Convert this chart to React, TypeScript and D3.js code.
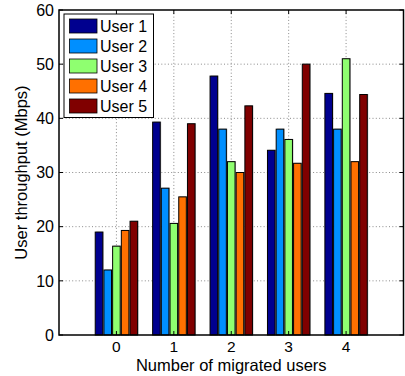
import React from "react";
import * as d3 from "d3";

// Throughput per user (Mbps) for each number of migrated users
const migrated = [0, 1, 2, 3, 4];
const users = ["User 1", "User 2", "User 3", "User 4", "User 5"];
const user1 = [19.0, 39.3, 47.8, 34.1, 44.6];
const user2 = [12.0, 27.1, 38.0, 38.0, 38.0];
const user3 = [16.4, 20.6, 32.0, 36.1, 51.0];
const user4 = [19.3, 25.5, 30.0, 31.7, 32.0];
const user5 = [21.0, 39.0, 42.3, 50.0, 44.4];
const series = [user1, user2, user3, user4, user5];
const colors = ["#00008F", "#008FFF", "#8FFF70", "#FF7000", "#800000"];
const yTicks = [0, 10, 20, 30, 40, 50, 60];

const W = 405;
const H = 376;
const left = 59;
const right = 403.5;
const top = 10;
const bottom = 335;
const font = "'Liberation Sans', Arial, Helvetica, sans-serif";

export default function App() {
  const x = d3.scaleLinear().domain([-1, 5]).range([left, right]);
  const y = d3.scaleLinear().domain([0, 60]).range([bottom, top]);
  const step = x(1) - x(0);
  const inner = d3
    .scaleBand<string>()
    .domain(users)
    .range([-0.379 * step, 0.379 * step])
    .paddingInner(0.13)
    .paddingOuter(0.065);
  const bw = inner.bandwidth();
  const tickLen = 4;

  return (
    <svg
      width={W}
      height={H}
      style={{ position: "absolute", left: 0, top: 0, background: "#fff" }}
      fontFamily={font}
    >
      <rect x={0} y={0} width={W} height={H} fill="#fff" />
      {/* grid */}
      {yTicks.slice(1, -1).map((t) => (
        <line
          key={"gy" + t}
          x1={left}
          x2={right}
          y1={y(t)}
          y2={y(t)}
          stroke="#8a8a8a"
          strokeWidth={1}
          strokeDasharray="1,2.3"
        />
      ))}
      {migrated.map((m) => (
        <line
          key={"gx" + m}
          x1={x(m)}
          x2={x(m)}
          y1={top}
          y2={bottom}
          stroke="#8a8a8a"
          strokeWidth={1}
          strokeDasharray="1,2.3"
        />
      ))}
      {/* bars */}
      {migrated.map((m, gi) =>
        series.map((s, si) => {
          const bx = x(m) + (inner(users[si]) as number);
          const by = y(s[gi]);
          const bh = y(0) - by;
          return (
            <g key={`b${gi}-${si}`}>
              <rect x={bx + 1} y={by - 0.5} width={bw} height={bh + 0.5} fill="#b5b5b5" />
              <rect
                x={bx}
                y={by}
                width={bw}
                height={bh}
                fill={colors[si]}
                stroke="#000"
                strokeWidth={1}
              />
            </g>
          );
        })
      )}
      {/* ticks */}
      {yTicks.map((t) => (
        <g key={"ty" + t}>
          <line x1={left} x2={left + tickLen} y1={y(t)} y2={y(t)} stroke="#000" />
          <line x1={right - tickLen} x2={right} y1={y(t)} y2={y(t)} stroke="#000" />
          <text
            x={left - 5}
            y={y(t)}
            dy="0.36em"
            textAnchor="end"
            fontSize={16}
            fill="#000"
          >
            {t}
          </text>
        </g>
      ))}
      {migrated.map((m) => (
        <g key={"tx" + m}>
          <line x1={x(m)} x2={x(m)} y1={bottom} y2={bottom - tickLen} stroke="#000" />
          <line x1={x(m)} x2={x(m)} y1={top} y2={top + tickLen} stroke="#000" />
          <text x={x(m)} y={352} textAnchor="middle" fontSize={15.5} fill="#000">
            {m}
          </text>
        </g>
      ))}
      {/* frame */}
      <rect
        x={left}
        y={top}
        width={right - left}
        height={bottom - top}
        fill="none"
        stroke="#000"
        strokeWidth={1.5}
      />
      {/* axis labels */}
      <text
        x={(left + right) / 2}
        y={370.5}
        textAnchor="middle"
        fontSize={16.5}
        fill="#000"
      >
        Number of migrated users
      </text>
      <text
        transform={`translate(27,${(top + bottom) / 2}) rotate(-90)`}
        textAnchor="middle"
        fontSize={16.5}
        fill="#000"
      >
        User throughput (Mbps)
      </text>
      {/* legend */}
      <rect x={64} y={14} width={89.5} height={103.5} fill="#fff" stroke="#000" strokeWidth={1} />
      {users.map((u, i) => {
        const cy = 26 + i * 20;
        return (
          <g key={"lg" + u}>
            <rect
              x={69.5}
              y={cy - 7}
              width={27.5}
              height={14}
              fill={colors[i]}
              stroke="#000"
              strokeWidth={0.8}
            />
            <text x={100} y={cy} dy="0.36em" fontSize={16} fill="#000">
              {u}
            </text>
          </g>
        );
      })}
    </svg>
  );
}
